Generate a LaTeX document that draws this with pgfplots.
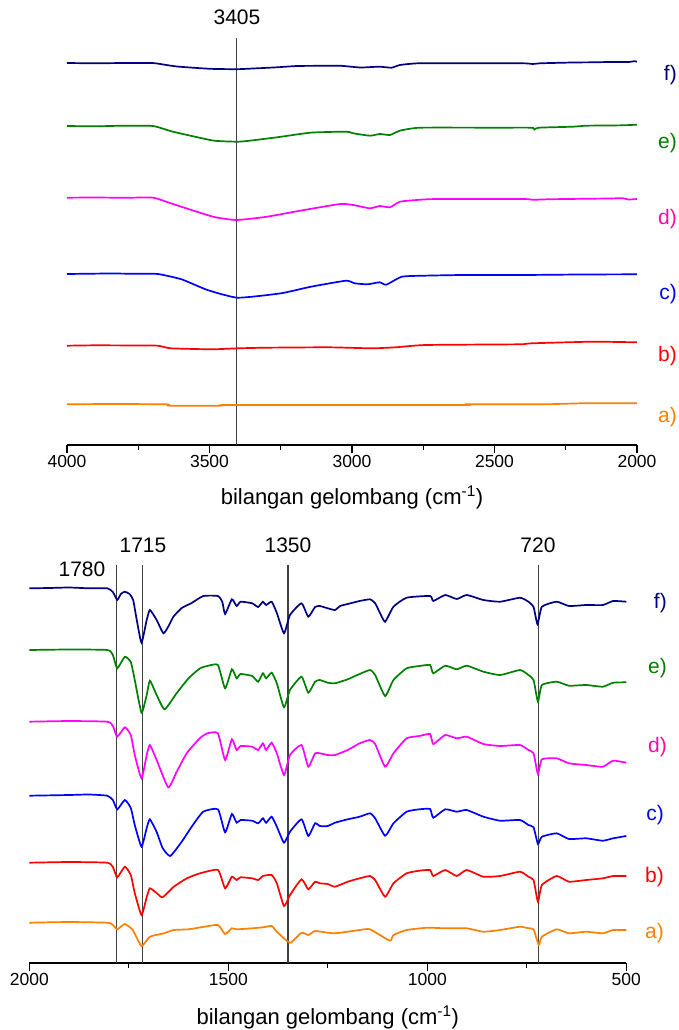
\documentclass[border=0pt]{standalone}
\usepackage{pgfplots}
\pgfplotsset{compat=1.18}
\usepackage{fontspec}
\setmainfont{Liberation Sans}
\definecolor{cf}{RGB}{0,0,128}
\definecolor{ce}{RGB}{0,128,0}
\definecolor{cd}{RGB}{255,0,255}
\definecolor{cdl}{RGB}{250,10,160}
\definecolor{cc}{RGB}{0,0,255}
\definecolor{cb}{RGB}{255,0,0}
\definecolor{ca}{RGB}{255,128,0}
\pgfplotsset{
  spec/.style={
    scale only axis, clip=false,
    axis x line=bottom, axis y line=none,
    x dir=reverse,
    axis line style={-, line width=1.4pt},
    tick align=outside,
    major tick length=8pt, minor tick length=5pt,
    every tick/.style={black, line width=1.1pt},
    minor x tick num=1,
    /pgf/number format/assume math mode=true,
    /pgf/number format/set thousands separator={},
    ticklabel style={font=\fontsize{17.5}{20}\selectfont, inner sep=2pt},
    xlabel style={font=\fontsize{22}{24}\selectfont},
    xlabel={bilangan gelombang (cm\textsuperscript{-1})},
  },
  cv/.style={line width=1.7pt, smooth, tension=0.3},
  vl/.style={black!75, line width=1.2pt},
}
\begin{document}
\begin{tikzpicture}
\path[use as bounding box] (0,0) rectangle (678pt,-1030pt);
% ---------------- top panel ----------------
\begin{axis}[spec, at={(67pt,-445pt)}, anchor=south west,
  width=570pt, height=407pt,
  xmin=2000, xmax=4000, ymin=-445, ymax=-38,
  xtick={2000,2500,3000,3500,4000},
  xlabel style={yshift=-13pt}]
\addplot[vl] coordinates {(3405,-38) (3405,-445)};
\addplot[cv, cf] coordinates {(4000,-63)(3900,-63.3)(3800,-63)(3700,-63)(3684,-63.5)(3614,-66.5)(3498,-68.8)(3405,-69.2)(3347,-68.5)(3263,-67.3)(3193,-66)(3100,-65.8)(3042,-65.7)(2972,-67.5)(2930,-67)(2902,-66.7)(2861,-67.7)(2832,-65)(2768,-63.3)(2600,-63.3)(2400,-63.3)(2365,-64)(2340,-63.3)(2225,-62.5)(2150,-62.3)(2100,-62)(2030,-62)(2010,-61.2)(2000,-61.7)};
\addplot[cv, ce] coordinates {(4000,-126)(3900,-126.3)(3800,-125.7)(3698,-126)(3628,-131.7)(3488,-140.5)(3405,-141.7)(3368,-141)(3263,-137.3)(3147,-132.7)(3042,-131.7)(3010,-132)(2996,-133.3)(2937,-135.7)(2902,-134)(2867,-135)(2832,-130.7)(2761,-127.7)(2500,-127.7)(2370,-127.7)(2360,-129.5)(2345,-127.7)(2225,-126.7)(2179,-125.7)(2100,-125.5)(2050,-125.3)(2000,-124.7)};
\addplot[cv, cd] coordinates {(4000,-197.7)(3900,-197.5)(3800,-197.8)(3698,-197.7)(3628,-204)(3488,-216.7)(3405,-220)(3298,-216.7)(3182,-210.7)(3042,-204)(2996,-205)(2937,-208.3)(2902,-206)(2867,-207.3)(2832,-201.7)(2773,-200)(2703,-199)(2400,-199)(2365,-199.8)(2300,-199.2)(2100,-198.5)(2050,-198.2)(2030,-199.5)(2000,-199)};
\addplot[cv, cc] coordinates {(4000,-274)(3850,-273.5)(3760,-273.8)(3681,-274)(3598,-279.3)(3507,-290)(3401,-297.7)(3249,-293.3)(3144,-286.7)(3021,-280.7)(2991,-283.3)(2946,-284.3)(2903,-282.3)(2880,-284.7)(2825,-276.7)(2748,-275.7)(2612,-275)(2400,-275)(2200,-274.5)(2000,-274.3)};
\addplot[cv, cb] coordinates {(4000,-345.7)(3900,-345.3)(3750,-345.5)(3680,-345.7)(3636,-348.3)(3492,-349.3)(3400,-348.3)(3300,-347.7)(3082,-347.3)(2931,-348.3)(2847,-347.3)(2741,-345)(2415,-344.3)(2369,-343.3)(2157,-341.7)(2000,-342.3)};
\addplot[cv, ca] coordinates {(4000,-404.3)(3850,-404)(3650,-404.3)(3640,-405.7)(3461,-405.7)(3430,-405)(2612,-405)(2600,-404.3)(2330,-404.3)(2194,-403.3)(2000,-403.3)};
\end{axis}
% ---------------- bottom panel ----------------
\begin{axis}[spec, at={(29.3pt,-963pt)}, anchor=south west,
  width=597pt, height=398pt,
  xmin=500, xmax=2000, ymin=-963, ymax=-565,
  xtick={500,1000,1500,2000},
  xlabel style={yshift=-15pt}]
\addplot[vl] coordinates {(1780,-565) (1780,-963)};
\addplot[vl] coordinates {(1715,-565) (1715,-963)};
\addplot[vl] coordinates {(1350,-565) (1350,-963)};
\addplot[vl] coordinates {(720,-565) (720,-963)};
\addplot[cv, cf] coordinates {(2000,-588.3)(1950,-588)(1900,-587.5)(1850,-588.3)(1804,-588.3)(1790,-592)(1779,-600)(1770,-594)(1760,-591.7)(1748,-594)(1739,-600)(1730,-620)(1718,-642.7)(1705,-620)(1697,-610)(1680,-620)(1663,-633.3)(1650,-626)(1638,-616.7)(1617,-608)(1592,-603)(1563,-596)(1526,-596)(1515,-602)(1508,-614)(1491,-599.3)(1479,-606)(1469,-601.7)(1440,-603.3)(1425,-607)(1413,-601.7)(1405,-605)(1391,-601.7)(1378,-613)(1360,-633.3)(1345,-615)(1316,-603.3)(1299,-616.7)(1282,-607)(1270,-606)(1250,-608.3)(1232,-610)(1219,-606)(1200,-604)(1170,-601)(1144,-599.3)(1131,-603.3)(1120,-612)(1106,-621.7)(1085,-606.7)(1052,-597.7)(993,-596)(985,-601)(955,-595)(926,-599)(901,-595)(859,-600)(817,-601.7)(767,-597.7)(746,-601.7)(733,-607)(723,-624.3)(712,-606.7)(675,-601.7)(644,-606)(601,-605)(559,-605)(533,-601)(500,-601.7)};
\addplot[cv, ce] coordinates {(2000,-650)(1900,-649.5)(1804,-650)(1790,-655)(1779,-668.3)(1760,-656.7)(1745,-662)(1735,-680)(1718,-712.7)(1705,-695)(1697,-680.7)(1680,-695)(1660,-709.3)(1630,-693.3)(1600,-678.3)(1571,-668.3)(1550,-665.7)(1526,-665)(1508,-688.3)(1491,-669.3)(1479,-678.3)(1469,-674)(1440,-676)(1425,-681.7)(1413,-673.3)(1405,-678.3)(1391,-672.7)(1378,-683.3)(1360,-707.3)(1345,-690)(1316,-676.7)(1299,-692.7)(1282,-681.7)(1270,-680)(1250,-682.7)(1232,-683.3)(1200,-679.3)(1170,-674)(1144,-670)(1131,-675)(1106,-696)(1085,-680)(1052,-668.3)(1020,-666)(993,-665)(985,-673.3)(955,-665.7)(926,-669.3)(901,-665.7)(859,-671.7)(817,-675)(767,-670)(746,-675)(733,-680)(722,-701.7)(712,-685)(675,-681.7)(644,-685.7)(601,-685)(559,-686.7)(533,-682.7)(500,-682.3)};
\addplot[cv, cd] coordinates {(2000,-721.7)(1900,-721)(1804,-721.7)(1790,-726)(1779,-736.7)(1760,-727.3)(1745,-735)(1735,-755)(1718,-778.3)(1705,-755)(1697,-745)(1680,-760)(1651,-787.3)(1630,-772)(1604,-753)(1571,-738)(1552,-733.3)(1526,-733.3)(1508,-760)(1491,-739.3)(1479,-750)(1469,-746)(1440,-746.7)(1425,-750)(1413,-743.3)(1405,-750)(1391,-742.7)(1378,-753.3)(1360,-775)(1345,-755)(1316,-745)(1299,-766.7)(1282,-753.3)(1270,-753.3)(1250,-755)(1232,-755)(1200,-750)(1170,-743.3)(1144,-740)(1131,-744)(1106,-766.7)(1085,-753.3)(1052,-738.3)(1020,-736)(993,-734)(985,-744)(955,-735)(926,-738.3)(901,-736.7)(859,-744)(817,-746)(767,-745)(746,-750)(733,-753.3)(722,-774)(712,-759.3)(675,-758.3)(644,-763.3)(601,-765)(559,-766.7)(533,-760.7)(500,-762.7)};
\addplot[cv, cc] coordinates {(2000,-795.7)(1900,-795)(1850,-794.5)(1804,-795.7)(1790,-800)(1779,-809.3)(1760,-800)(1745,-808)(1735,-825)(1718,-846.7)(1705,-828)(1697,-819.3)(1680,-832)(1665,-848)(1646,-856)(1617,-841.7)(1592,-826.7)(1563,-811.7)(1526,-809.3)(1508,-832.3)(1491,-814)(1479,-822.7)(1469,-820)(1440,-820.7)(1425,-823.3)(1413,-818.3)(1405,-822.7)(1391,-816.7)(1378,-826.7)(1360,-842.7)(1345,-831.7)(1316,-819.3)(1299,-836)(1282,-823.3)(1270,-826)(1250,-826)(1232,-822.7)(1200,-819.3)(1170,-816.7)(1144,-813.3)(1131,-818.3)(1106,-835.7)(1085,-823.3)(1052,-811.7)(1020,-809.3)(993,-809)(985,-817.7)(955,-809.3)(926,-811.7)(901,-810)(859,-816.7)(817,-820.7)(767,-820)(746,-825)(733,-827.3)(722,-844)(712,-836.7)(675,-833.3)(644,-839)(601,-838.3)(559,-840.7)(533,-838.3)(500,-836)};
\addplot[cv, cb] coordinates {(2000,-862.7)(1900,-862)(1804,-862.7)(1790,-867)(1779,-877.3)(1760,-866.7)(1745,-875)(1735,-893)(1718,-915)(1705,-897)(1697,-888.3)(1680,-893)(1665,-897.3)(1637,-886.7)(1604,-878.3)(1571,-873.3)(1526,-870)(1508,-888.3)(1491,-876.7)(1479,-880)(1469,-877.3)(1440,-878.3)(1425,-880)(1413,-876)(1391,-875)(1378,-883.3)(1360,-906)(1345,-895)(1316,-879.3)(1299,-889.3)(1282,-881.7)(1270,-883.3)(1250,-884)(1232,-886.7)(1200,-881.7)(1170,-878.3)(1144,-876)(1131,-880)(1106,-896.7)(1085,-883.3)(1052,-873.3)(1020,-870.7)(993,-870)(985,-876)(955,-870)(926,-876)(901,-870)(859,-876.7)(817,-876)(767,-871.7)(746,-876.7)(733,-880)(722,-901.7)(712,-885)(675,-876)(644,-881.7)(601,-880)(559,-878.3)(533,-876)(500,-876)};
\addplot[cv, ca] coordinates {(2000,-922.7)(1900,-922)(1804,-922.7)(1790,-925)(1779,-929.3)(1760,-924)(1740,-930)(1718,-946)(1697,-936.7)(1662,-933.3)(1637,-930)(1600,-929.3)(1560,-926.7)(1526,-925)(1508,-934)(1491,-928.3)(1479,-929.3)(1440,-928.3)(1413,-927.3)(1391,-926)(1378,-931.7)(1345,-942.7)(1316,-932.7)(1299,-935)(1282,-931)(1250,-932.7)(1232,-933.3)(1200,-931.7)(1170,-930)(1144,-929.3)(1094,-940.7)(1085,-935)(1052,-930)(1000,-927.7)(955,-928.3)(901,-928.3)(859,-931.7)(817,-930)(767,-926.7)(746,-928.3)(733,-929.3)(720,-945)(712,-936.7)(675,-929.3)(644,-933.3)(601,-931.7)(559,-933.3)(533,-930)(500,-930)};
\end{axis}
% annotations
\begin{scope}[every node/.style={font=\fontsize{21}{23}\selectfont, inner sep=0pt}]
\node at (237pt,-17pt) {3405};
\node at (82pt,-569pt) {1780};
\node at (143pt,-545pt) {1715};
\node at (288pt,-545pt) {1350};
\node at (538pt,-545pt) {720};
\node[anchor=east, text=cf]  at (677pt,-75pt)  {f)};
\node[anchor=east, text=ce]  at (677pt,-143pt) {e)};
\node[anchor=east, text=cdl] at (677pt,-219pt) {d)};
\node[anchor=east, text=cc]  at (677pt,-294pt) {c)};
\node[anchor=east, text=cb]  at (677pt,-356pt) {b)};
\node[anchor=east, text=ca]  at (677pt,-417pt) {a)};
\node[anchor=east, text=cf]  at (667pt,-603pt) {f)};
\node[anchor=east, text=ce]  at (667pt,-668pt) {e)};
\node[anchor=east, text=cdl] at (667pt,-747pt) {d)};
\node[anchor=east, text=cc]  at (664pt,-815pt) {c)};
\node[anchor=east, text=cb]  at (664pt,-877pt) {b)};
\node[anchor=east, text=ca]  at (664pt,-933pt) {a)};
\end{scope}
\end{tikzpicture}
\end{document}
